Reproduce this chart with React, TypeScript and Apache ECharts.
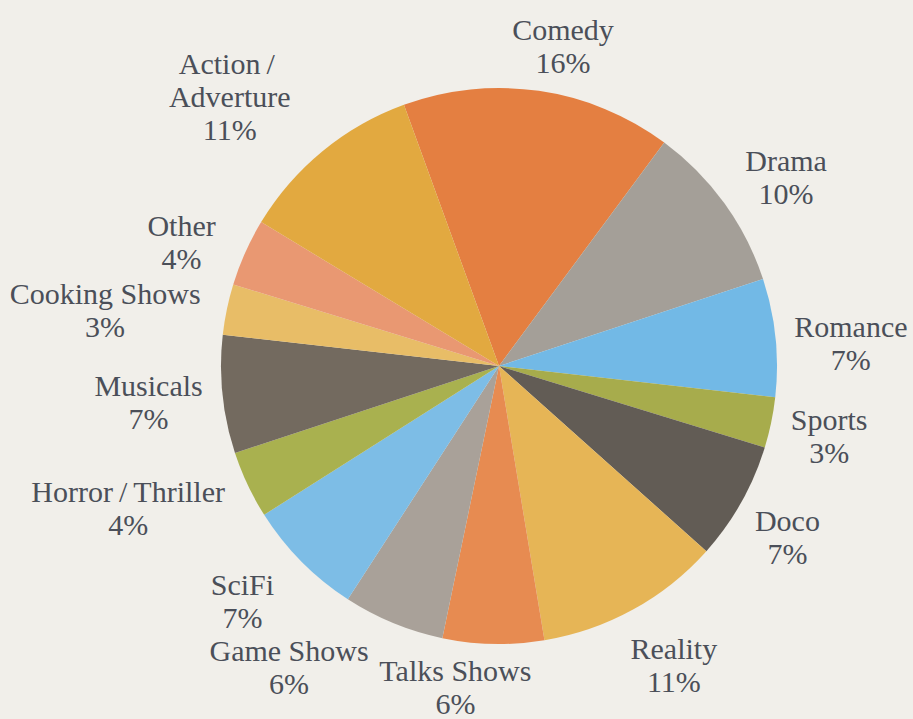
import React, { useEffect, useRef } from "react";
import * as echarts from "echarts";

// Share of viewing by genre (percent), clockwise from the top
const genres = [
  "Comedy",
  "Drama",
  "Romance",
  "Sports",
  "Doco",
  "Reality",
  "Talks Shows",
  "Game Shows",
  "SciFi",
  "Horror/Thriller",
  "Musicals",
  "Cooking Shows",
  "Other",
  "Action/\nAdverture",
];
const shares = [16, 10, 7, 3, 7, 11, 6, 6, 7, 4, 7, 3, 4, 11];

const sliceColors = [
  "#e47f41",
  "#a49f98",
  "#72b9e6",
  "#a7ac4c",
  "#625c55",
  "#e6b556",
  "#e78b51",
  "#a9a199",
  "#7dbde6",
  "#a9b14f",
  "#736a5f",
  "#e8bd67",
  "#e99872",
  "#e2a940",
];

// clearance between the rim and each label box, plus a hand nudge [dx, dy]
const labelGaps = [10, 14, 16, 15, 12, 12, 8, 16, 12, 4, 14, 16, 12, 22];
const labelNudges: [number, number][] = [
  [17, 5],
  [8, 13],
  [0, 13],
  [0, 1],
  [-3, 7],
  [11, 1],
  [-37, 1],
  [-75, -27],
  [-18, -1],
  [-24, -22],
  [-3, 0],
  [-8, 24],
  [-12, 13],
  [-30, 22],
];

const CX = 499;
const CY = 366;
const R = 278;
const START_ANGLE = 110; // ECharts: degrees counter-clockwise from 3 o'clock

export default function App() {
  const ref = useRef<HTMLDivElement>(null);

  useEffect(() => {
    if (!ref.current) return;
    const chart = echarts.init(ref.current, undefined, { renderer: "svg" });

    const total = shares.reduce((a, b) => a + b, 0);
    const offset = 90 - START_ANGLE; // clockwise-from-top offset
    const midAngles: number[] = [];
    let acc = 0;
    shares.forEach((v) => {
      midAngles.push(offset + ((acc + v / 2) / total) * 360);
      acc += v;
    });

    chart.setOption({
      animation: false,
      backgroundColor: "#f1efea",
      series: [
        {
          type: "pie",
          center: [CX, CY],
          radius: R,
          startAngle: START_ANGLE,
          clockwise: true,
          avoidLabelOverlap: false,
          data: genres.map((name, i) => ({
            name,
            value: shares[i],
            itemStyle: { color: sliceColors[i] },
          })),
          itemStyle: { borderWidth: 0 },
          label: {
            show: true,
            position: "outside",
            formatter: (p: any) =>
              `${p.name.replace("/", "\u2009/\u2009")}\n${p.value}%`,
            fontFamily: "'Liberation Serif', 'Times New Roman', serif",
            fontSize: 30,
            lineHeight: 33,
            color: "#4b4f59",
            align: "center",
          },
          labelLine: { show: false, length: 10, length2: 0 },
          labelLayout: (params: any) => {
            const i = params.dataIndex;
            const th = (midAngles[i] * Math.PI) / 180;
            const dx = Math.sin(th);
            const dy = -Math.cos(th);
            const w = params.labelRect.width;
            const h = params.labelRect.height;
            const ext = (Math.abs(dx) * w) / 2 + (Math.abs(dy) * h) / 2;
            const rc = R + labelGaps[i] + ext;
            return {
              x: CX + dx * rc + labelNudges[i][0],
              y: CY + dy * rc + labelNudges[i][1],
              align: "center",
              verticalAlign: "middle",
            };
          },
          emphasis: { disabled: true },
        },
      ],
    });

    return () => chart.dispose();
  }, []);

  return (
    <div
      style={{
        position: "fixed",
        left: 0,
        top: 0,
        width: 913,
        height: 719,
        background: "#f1efea",
      }}
    >
      <div ref={ref} style={{ width: 913, height: 719 }} />
    </div>
  );
}
